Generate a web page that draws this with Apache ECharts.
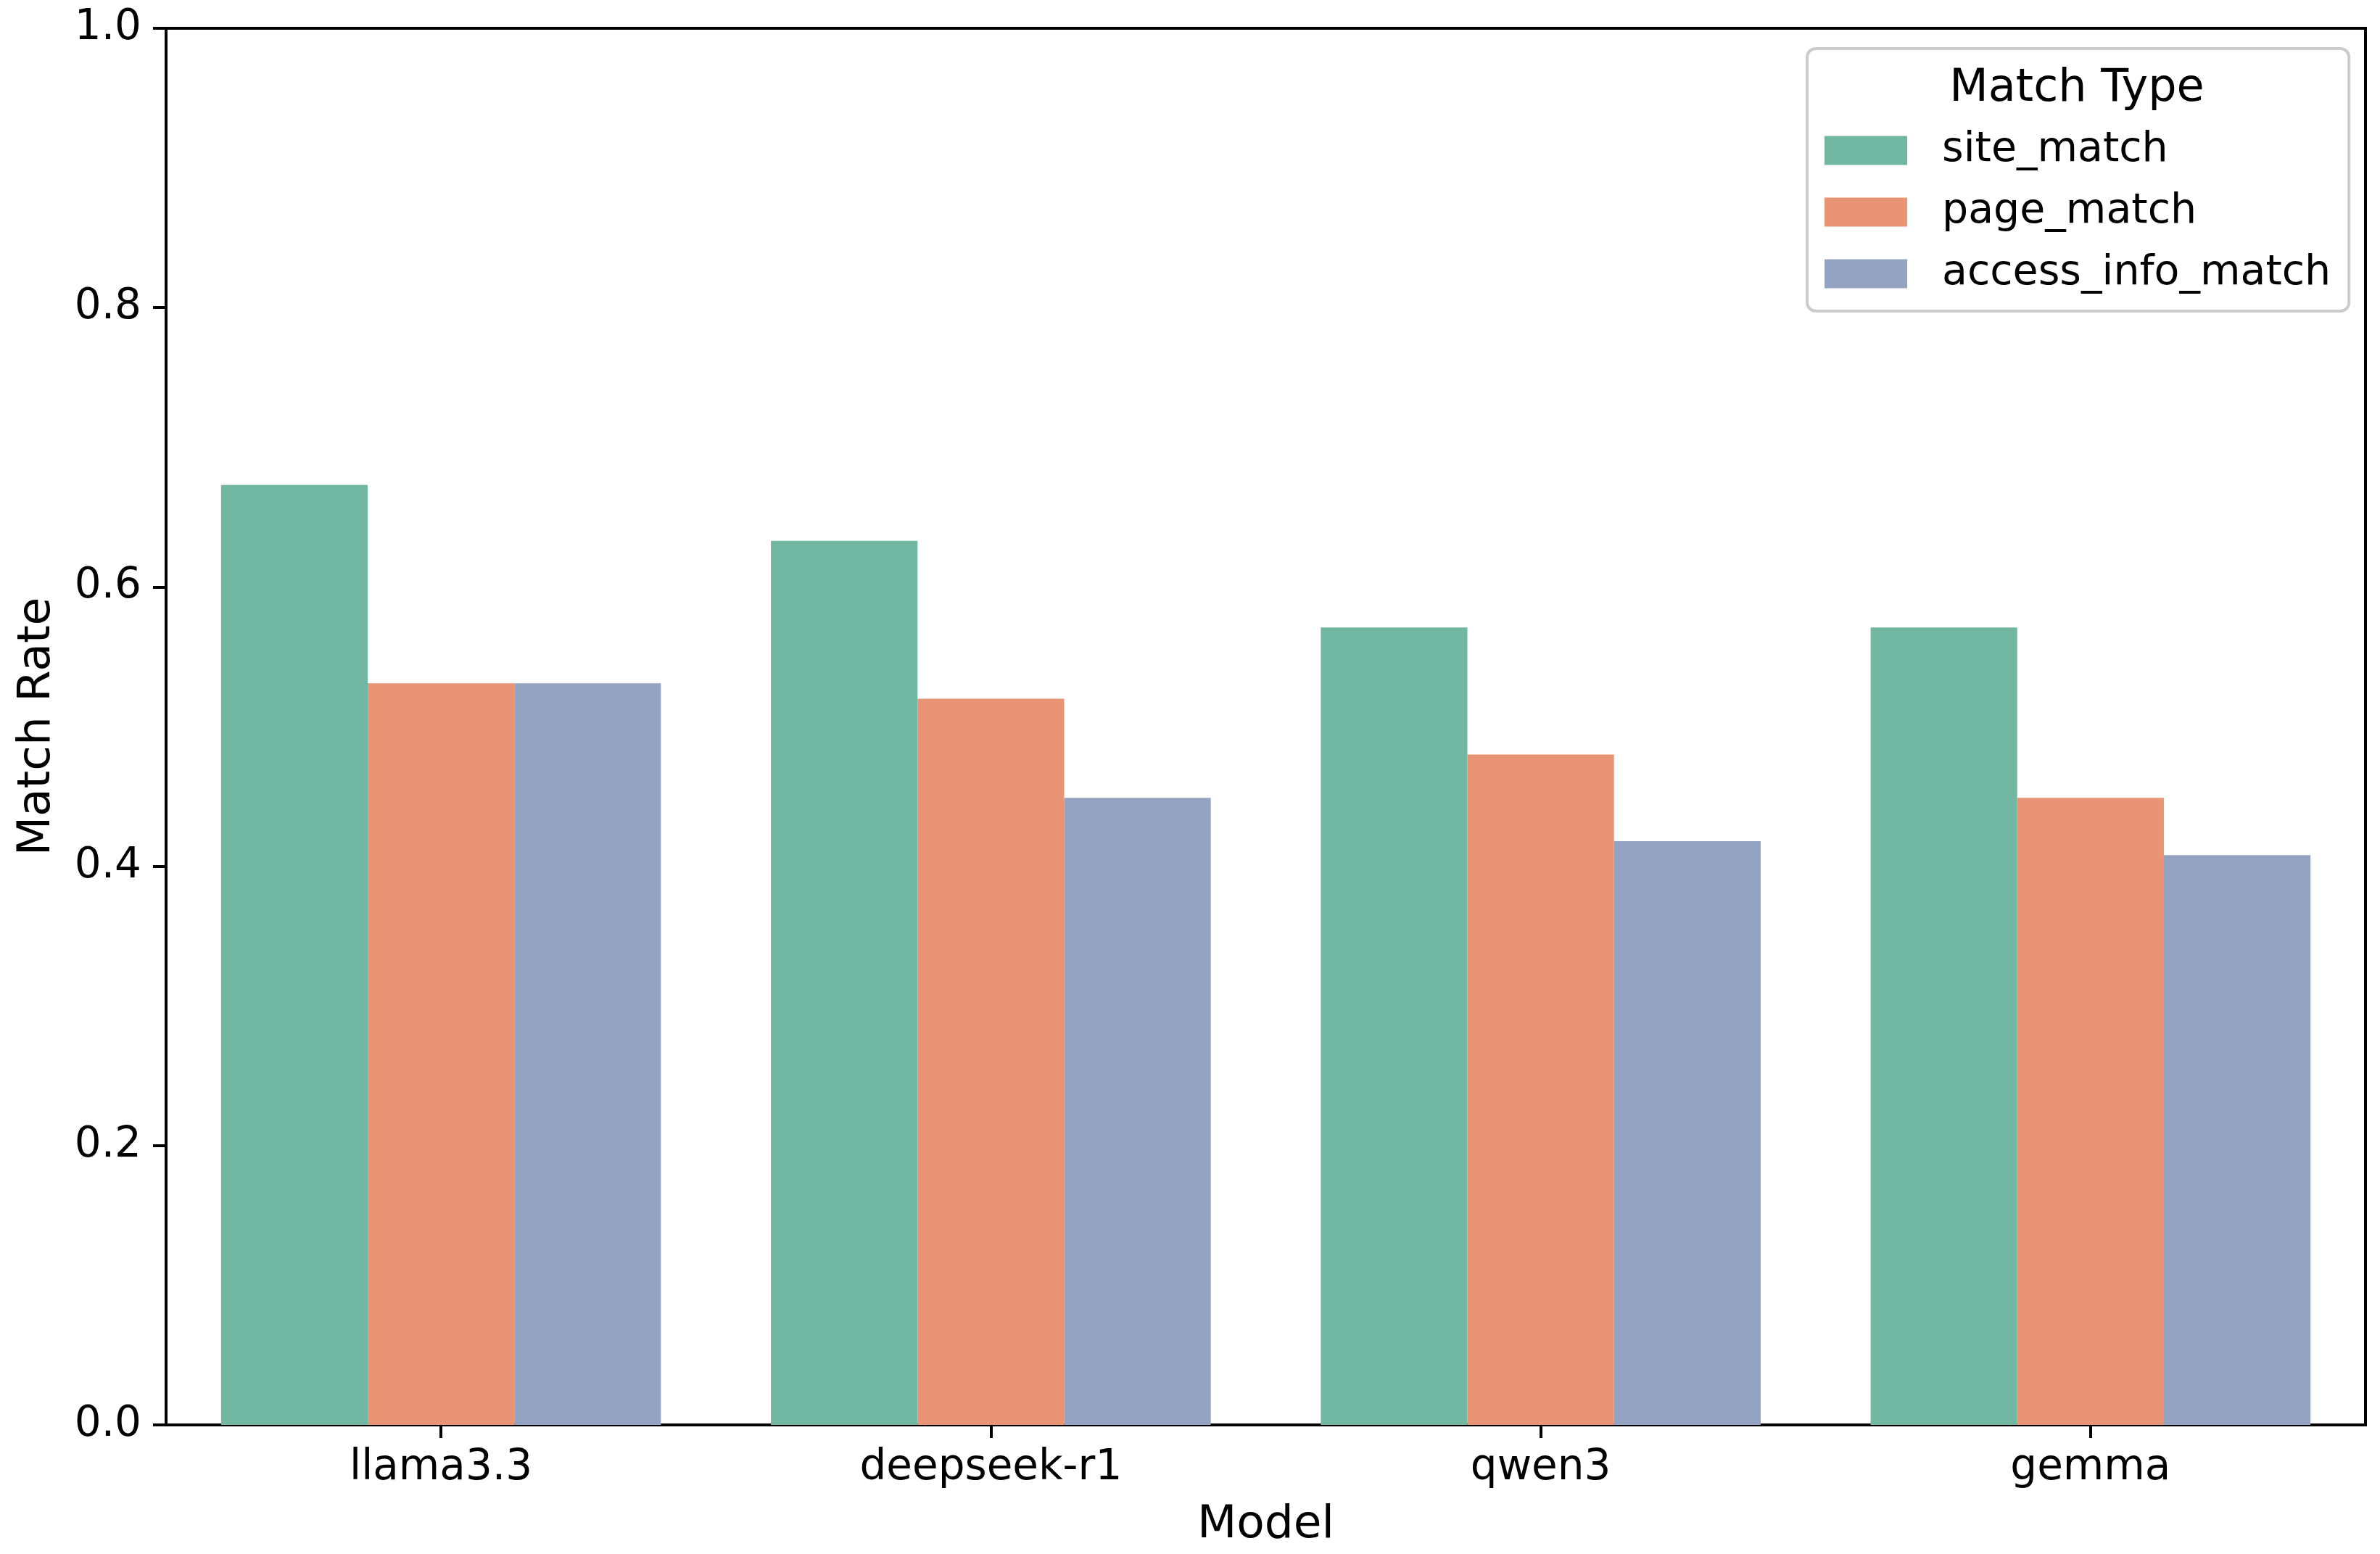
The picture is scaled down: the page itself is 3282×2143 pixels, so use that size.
<!DOCTYPE html>
<html>
<head>
<meta charset="utf-8">
<script src="https://cdn.jsdelivr.net/npm/echarts@6/dist/echarts.min.js"></script>
<style>
html,body{margin:0;padding:0;background:#fff;}
#chart{width:3282px;height:2143px;}
</style>
</head>
<body>
<div id="chart"></div>
<script>
const models = ['llama3.3', 'deepseek-r1', 'qwen3', 'gemma'];
const seriesNames = ['site_match', 'page_match', 'access_info_match'];
const siteMatch = [0.673, 0.633, 0.571, 0.571];
const pageMatch = [0.531, 0.520, 0.480, 0.449];
const accessInfoMatch = [0.531, 0.449, 0.418, 0.408];
const yTicks = [0.0, 0.2, 0.4, 0.6, 0.8, 1.0];
const colors = ['#72b7a1', '#e99575', '#95a3c3'];
const values = [siteMatch, pageMatch, accessInfoMatch];

const FONT = 'DejaVu Sans';
const chart = echarts.init(document.getElementById('chart'), null, {renderer: 'canvas'});

const option = {
  backgroundColor: '#ffffff',
  animation: false,
  textStyle: {fontFamily: FONT, color: '#000'},
  grid: {
    left: 229, right: 20, top: 39, bottom: 178,
    show: true, borderColor: '#000', borderWidth: 4, backgroundColor: 'transparent',
    containLabel: false
  },
  title: {
    text: 'Match Type',
    left: 2864, top: 92,
    textAlign: 'center',
    padding: 0,
    z: 10,
    textStyle: {fontFamily: FONT, fontSize: 62, fontWeight: 'normal', color: '#000'}
  },
  legend: {
    data: seriesNames,
    orient: 'vertical',
    left: 2492, top: 67,
    padding: [112, 25, 23, 24],
    itemWidth: 114, itemHeight: 40, itemGap: 28,
    icon: 'rect',
    backgroundColor: 'rgba(255,255,255,0.8)',
    borderColor: '#cccccc', borderWidth: 4, borderRadius: 12,
    selectedMode: false,
    textStyle: {fontFamily: FONT, fontSize: 57, color: '#000', padding: [0, 0, 0, 43]}
  },
  xAxis: {
    type: 'category',
    data: models,
    name: 'Model',
    nameLocation: 'middle',
    nameGap: 107,
    nameTextStyle: {fontFamily: FONT, fontSize: 63, color: '#000'},
    axisLine: {show: true, lineStyle: {color: '#000', width: 4}},
    axisTick: {show: true, alignWithLabel: true, length: 18, lineStyle: {color: '#000', width: 4}},
    axisLabel: {fontFamily: FONT, fontSize: 58, color: '#000', margin: 31},
    splitLine: {show: false}
  },
  yAxis: {
    type: 'value',
    min: 0, max: 1, interval: 0.2,
    name: 'Match Rate',
    nameLocation: 'middle',
    nameGap: 146,
    nameTextStyle: {fontFamily: FONT, fontSize: 63, color: '#000'},
    axisLine: {show: true, lineStyle: {color: '#000', width: 4}},
    axisTick: {show: true, length: 18, lineStyle: {color: '#000', width: 4}},
    axisLabel: {
      fontFamily: FONT, fontSize: 58, color: '#000', margin: 34,
      formatter: function (v) {
        const t = yTicks.find(x => Math.abs(x - v) < 1e-9);
        return (t !== undefined ? t : v).toFixed(1);
      }
    },
    splitLine: {show: false}
  },
  series: seriesNames.map((name, i) => ({
    name: name,
    type: 'bar',
    data: values[i],
    barGap: '0%',
    barCategoryGap: '20%',
    itemStyle: {color: colors[i]},
    z: 1
  }))
};
chart.setOption(option);
</script>
</body>
</html>
